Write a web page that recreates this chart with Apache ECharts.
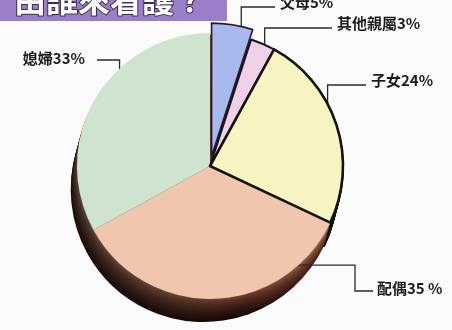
<!DOCTYPE html>
<html>
<head>
<meta charset="utf-8">
<script src="https://cdn.jsdelivr.net/npm/echarts@6/dist/echarts.min.js"></script>
<style>
  html, body { margin: 0; padding: 0; background: #fbfbfb; }
  #chart { width: 452px; height: 330px; }
</style>
</head>
<body>
<div id="chart"></div>
<script>
// Who provides the care: shares in percent
const categories = ['父母', '其他親屬', '子女', '配偶', '媳婦'];
const shares = [5, 3, 24, 35, 33];
const unitText = ['%', '%', '%', ' %', '%'];
const titleText = '由誰來看護？';

// top-face colours and slice outlines
const sliceColors = ['#a9b9ee', '#f0d0e6', '#f7f4c2', '#f1c6ae', '#cfe4cf'];
const sliceBorders = [
  { c: '#1c1c30', w: 1.6 },
  { c: '#151515', w: 2 },
  { c: '#161616', w: 1.5 },
  { c: 'rgba(0,0,0,0)', w: 0 },
  { c: 'rgba(0,0,0,0)', w: 0 }
];
const pulledOut = 0;   // index of the slice drawn pulled away from the disc
const outlined = 2;    // index of the slice whose edges are redrawn on top

// disc geometry (pixels)
const CX = 210, CY = 166, R = 133, EXPLODE = 10;
const DEPTH_LAYERS = 14, DEPTH_DY = 1.65, DEPTH_DX = -0.45;

// where each label sits and how its leader is routed
const labelPlaces = [
  { x: 280, y: 2,   align: 'left',  route: 'up',     lineDy: 5, t: 0.78, k: 0.92 },
  { x: 337, y: 23,  align: 'left',  route: 'up',     lineDy: 5, t: 0.85, k: 0.9 },
  { x: 371, y: 80,  align: 'left',  route: 'up',     lineDy: 5, t: 0.46, k: 0.95 },
  { x: 377, y: 288, align: 'left',  route: 'across', lineDy: 3, t: 0.26, k: 0.88, elbowX: 355 },
  { x: 85,  y: 58,  align: 'right', route: 'up',     lineDy: 2, t: 0.51, k: 0.8 }
];

const total = shares.reduce((a, b) => a + b, 0);

function sharesBefore(i) {
  let s = 0;
  for (let j = 0; j < i; j++) s += shares[j];
  return s;
}

// shift of the pulled-out slice along its middle direction
const pulledMid = (sharesBefore(pulledOut) + shares[pulledOut] / 2) / total * 2 * Math.PI;
const pullDx = EXPLODE * Math.sin(pulledMid);
const pullDy = -EXPLODE * Math.cos(pulledMid);

function anchorOf(i) {
  const p = labelPlaces[i];
  const a = (sharesBefore(i) + p.t * shares[i]) / total * 2 * Math.PI;
  let x = CX + p.k * R * Math.sin(a);
  let y = CY - p.k * R * Math.cos(a);
  if (i === pulledOut) { x += pullDx; y += pullDy; }
  return [x, y];
}

function leaderPoints(i) {
  const p = labelPlaces[i];
  const [ax, ay] = anchorOf(i);
  const ly = p.y + p.lineDy;
  if (p.route === 'across') {
    return [[ax, ay], [p.elbowX, ay], [p.elbowX, ly], [p.x - 4, ly]];
  }
  const endX = p.align === 'left' ? p.x - 5 : p.x + 12;
  return [[ax, ay], [ax, ly], [endX, ly]];
}

function hexToRgb(h) {
  const n = parseInt(h.slice(1), 16);
  return [(n >> 16) & 255, (n >> 8) & 255, n & 255];
}
function mix(a, b, f) {
  const ca = hexToRgb(a), cb = hexToRgb(b);
  const c = ca.map((v, k) => Math.round(v + (cb[k] - v) * f));
  return 'rgb(' + c.join(',') + ')';
}

const NONE = 'rgba(0,0,0,0)';

// shared settings for every disc drawn below
function disc(center, z, data) {
  return {
    type: 'pie',
    center: center,
    radius: R,
    startAngle: 90,
    clockwise: true,
    silent: true,
    animation: false,
    label: { show: false },
    labelLine: { show: false },
    emphasis: { disabled: true },
    z: z,
    data: data
  };
}

// stacked discs below the top face form the rim of the pie
const rimSeries = [];
for (let L = DEPTH_LAYERS; L >= 1; L--) {
  const f = Math.pow(L / DEPTH_LAYERS, 0.55);
  const cx = CX + L * DEPTH_DX, cy = CY + L * DEPTH_DY;
  const rimColor = {
    type: 'linear', global: true,
    x: cx - R, y: cy + R * 0.3, x2: cx + R, y2: cy - R * 0.1,
    colorStops: [
      { offset: 0,    color: mix('#6e5448', '#1a0c08', f) },
      { offset: 0.55, color: mix('#8c4a36', '#160805', f) },
      { offset: 1,    color: mix('#cc9274', '#5a2818', f) }
    ]
  };
  rimSeries.push(disc([cx, cy], 1, categories.map((name, i) => ({
    name: name,
    value: shares[i],
    itemStyle: {
      color: rimColor,
      borderColor: i === outlined ? '#111' : NONE,
      borderWidth: i === outlined ? 2.4 : 0
    }
  }))));
}

// top face: every slice except the pulled-out one, plus all labels
const topSeries = Object.assign(disc([CX, CY], 2, categories.map((name, i) => ({
  name: name,
  value: shares[i],
  itemStyle: i === pulledOut
    ? { color: NONE, borderWidth: 0 }
    : { color: sliceColors[i], borderColor: sliceBorders[i].c, borderWidth: sliceBorders[i].w }
}))), {
  avoidLabelOverlap: false,
  label: {
    show: true,
    position: 'outside',
    formatter: (p) => p.name + p.value + unitText[p.dataIndex],
    fontFamily: 'Noto Sans CJK TC',
    fontSize: 15,
    fontWeight: 'bold',
    color: '#1c1c1c'
  },
  labelLine: {
    show: true,
    smooth: false,
    lineStyle: { color: '#2a2a2a', width: 1.3 }
  },
  labelLayout: (params) => {
    const i = params.dataIndex;
    const p = labelPlaces[i];
    return {
      x: p.x,
      y: p.y,
      align: p.align,
      verticalAlign: 'middle',
      labelLinePoints: leaderPoints(i)
    };
  }
});

// heavy edges of the outlined slice, drawn over its neighbours
const edgeSeries = disc([CX, CY], 3, categories.map((name, i) => ({
  name: name,
  value: shares[i],
  itemStyle: i === outlined
    ? { color: NONE, borderColor: '#141414', borderWidth: 2.6 }
    : { color: NONE, borderWidth: 0 }
})));

// the pulled-out slice, drawn on its own shifted centre
const pulledSeries = disc([CX + pullDx, CY + pullDy], 4, categories.map((name, i) => ({
  name: name,
  value: shares[i],
  itemStyle: i === pulledOut
    ? { color: sliceColors[i], borderColor: sliceBorders[i].c, borderWidth: sliceBorders[i].w }
    : { color: NONE, borderWidth: 0 }
})));

const chart = echarts.init(document.getElementById('chart'), null, { renderer: 'canvas' });
chart.setOption({
  backgroundColor: '#fbfbfb',
  animation: false,
  title: {
    text: titleText,
    left: 0,
    top: -22,
    padding: [6, 20, 4, 14],
    backgroundColor: '#9a7ec8',
    textStyle: {
      fontFamily: 'Noto Sans CJK TC',
      fontSize: 32,
      lineHeight: 32,
      fontWeight: 'bold',
      color: '#ffffff',
      textBorderColor: '#3b2d55',
      textBorderWidth: 2
    }
  },
  series: rimSeries.concat([topSeries, edgeSeries, pulledSeries])
});
</script>
</body>
</html>
